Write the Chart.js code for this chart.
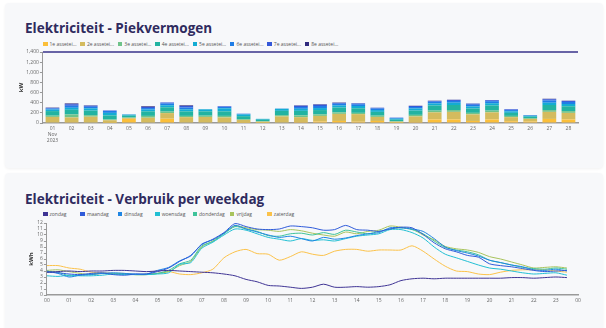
<!DOCTYPE html>
<html>
<head>
<meta charset="utf-8">
<script src="https://cdn.jsdelivr.net/npm/chart.js@4.4.1/dist/chart.umd.min.js"></script>
<style>
    body { margin: 0; background: #fff; font-family: 'Open Sans', sans-serif; }
    .kaart { position: absolute; left: 5px; width: 598px; background: #f7f8fa; border-radius: 4px; box-shadow: 0 1px 3px rgba(0,0,0,0.06); }
    .titel { position: absolute; left: 20px; font-weight: 700; font-size: 13.5px; color: #2f2b5e; white-space: nowrap; }
    .legenda { position: absolute; left: 38px; display: flex; font-size: 5px; color: #555; }
    .legenda div { width: 37.4px; display: flex; align-items: center; white-space: nowrap; }
    .legenda span { display: inline-block; width: 4.5px; height: 4.5px; margin-right: 2px; }
    .vak { position: absolute; }
</style>
</head>
<body>
<div class="kaart" style="top:3px;height:165px">
    <div class="titel" style="top:16px">Elektriciteit - Piekvermogen</div>
    <div class="legenda" id="legenda-piek" style="top:38px"></div>
    <div class="vak" style="left:13px;top:43px;width:568px;height:101px"><canvas id="chart-piek"></canvas></div>
</div>
<div class="kaart" style="top:173px;height:160px">
    <div class="titel" style="top:17px">Elektriciteit - Verbruik per weekdag</div>
    <div class="legenda" id="legenda-weekdag" style="top:38px"></div>
    <div class="vak" style="left:22px;top:44px;width:559px;height:90px"><canvas id="chart-weekdag"></canvas></div>
</div>
<script>
// Piekvermogen per dag (kW)
const dagen = ['01','02','03','04','05','06','07','08','09','10','11','12','13','14',
    '15','16','17','18','19','20','21','22','23','24','25','26','27','28'];
const assetNamen = ['1e assetei...','2e assetei...','3e assetei...','4e assetei...',
    '5e assetei...','6e assetei...','7e assetei...','8e assetei...'];
const assetKleuren = ['#fbbf3a','#d4bb5e','#6fc38a','#22b3a1','#13acd3','#1f7de6','#3558d8','#302a7e'];
const asset1 = [10,15,10,5,80,10,85,10,10,10,5,5,10,20,30,40,25,40,5,20,70,70,40,70,35,30,80,70];
const asset2 = [110,95,115,50,15,95,110,105,110,100,55,20,120,95,110,140,150,80,20,110,140,150,130,140,80,50,140,130];
const asset3 = [25,60,30,15,15,35,30,25,25,30,15,10,25,35,30,30,25,25,10,30,35,35,30,35,25,15,35,35];
const asset4 = [90,90,90,80,35,90,85,90,85,90,60,30,85,90,85,95,90,75,30,85,100,100,85,100,60,30,100,95];
const asset5 = [30,40,45,50,20,35,40,40,40,60,35,17,40,40,40,40,45,35,20,40,40,45,40,45,30,17,45,45];
const asset6 = [20,40,30,37,4,30,35,35,2,25,10,0,5,35,40,35,35,30,15,30,35,35,35,40,25,10,45,40];
const asset7 = [12,30,20,10,2,20,20,30,0,14,4,0,0,25,25,15,15,15,6,20,15,20,20,18,15,5,23,20];
const asset8 = [7,16,8,0,0,14,0,13,0,0,0,0,0,8,10,8,5,2,0,5,5,4,4,5,0,0,10,5];
const piekTicks = [0,200,400,600,800,1000,1200,1400];

// Verbruik per weekdag (kWh), per half uur
const tijden = [];
for (let u = 0; u <= 24; u++) {
    tijden.push(String(u % 24).padStart(2, '0') + ':00');
    if (u < 24) tijden.push(String(u).padStart(2, '0') + ':30');
}
const weekdagNamen = ['zondag','maandag','dinsdag','woensdag','donderdag','vrijdag','zaterdag'];
const weekdagKleuren = ['#3f3494','#2f5bd9','#1f86e3','#22bfd3','#3fc39a','#a8c35c','#fbc24a'];
const zondag = [3.8,3.9,4.0,3.9,4.0,4.0,4.1,4.1,4.0,3.9,4.0,4.1,4.0,3.9,3.8,3.7,3.5,3.2,2.6,2.2,1.6,1.5,1.3,1.1,1.3,1.8,1.3,1.3,1.4,1.3,1.4,1.7,2.4,2.7,2.8,2.7,2.8,2.8,2.8,2.8,2.8,2.8,2.9,2.9,2.8,2.9,3.0,2.9];
const maandag = [3.8,3.7,3.5,3.4,3.6,3.7,3.4,3.3,3.5,3.5,3.9,4.5,5.6,6.6,8.4,9.3,10.4,11.9,11.4,11.0,10.9,11.0,11.5,11.4,11.2,10.8,10.9,11.6,10.9,10.8,10.6,11.0,11.3,11.2,10.1,8.7,7.7,7.2,6.6,6.3,5.2,4.9,4.7,4.4,4.1,3.9,4.0,4.1];
const dinsdag = [4.0,3.6,3.0,3.3,3.4,3.6,3.7,3.6,3.5,3.5,4.1,4.6,5.7,6.5,8.5,9.2,10.3,11.6,11.0,10.5,10.0,9.6,9.8,9.4,9.0,9.6,9.3,9.5,9.9,10.2,10.4,11.2,11.2,11.0,10.6,9.4,8.0,7.4,7.0,6.5,5.8,5.4,5.0,4.7,4.2,4.1,4.3,4.0];
const woensdag = [3.2,3.1,3.3,3.2,3.2,3.3,3.5,3.4,3.4,3.4,3.5,3.7,5.1,5.4,7.8,8.8,10.0,11.0,10.8,10.2,9.6,9.3,9.0,9.4,9.1,9.2,9.0,9.4,9.8,10.0,10.2,10.9,10.9,10.4,9.5,8.0,6.8,6.2,5.6,5.0,4.5,4.3,4.0,3.7,3.5,3.6,3.7,3.3];
const donderdag = [3.9,3.8,3.2,3.3,3.5,3.6,3.5,3.5,3.4,3.4,3.6,4.1,5.2,5.8,8.2,8.9,10.2,11.4,11.0,10.6,9.9,9.8,10.2,10.3,10.0,10.4,10.1,10.8,10.5,10.2,10.6,11.0,11.2,10.9,10.2,9.0,7.9,7.5,7.2,6.7,5.8,5.4,5.0,4.6,4.4,4.3,4.5,4.3];
const vrijdag = [4.1,4.2,3.9,3.6,3.4,3.6,3.6,3.6,3.4,3.5,3.6,3.9,4.9,5.6,8.0,9.0,10.3,11.5,11.2,10.9,10.8,10.6,10.9,10.7,10.3,10.0,9.8,10.5,10.2,10.6,10.8,11.5,11.3,11.0,10.0,9.2,8.1,7.7,7.5,7.1,6.4,6.0,5.5,5.0,4.5,4.6,4.7,4.5];
const zaterdag = [4.9,4.9,4.5,4.3,3.8,3.7,3.6,3.5,3.4,3.4,3.6,3.9,3.5,3.4,3.7,4.3,6.2,7.2,7.6,6.9,6.8,5.8,6.4,7.2,6.8,6.6,7.3,7.6,7.6,7.3,7.5,7.5,7.5,8.2,7.3,6.0,4.8,4.0,3.9,3.5,3.4,3.8,4.1,4.2,4.2,4.2,4.0,3.8];
const verbruikTicks = [0,1,2,3,4,5,6,7,8,9,10,11,12];

Chart.defaults.font.family = "'Open Sans', sans-serif";
Chart.defaults.font.size = 5;
Chart.defaults.color = '#666';

// legenda als html, vaste breedte per item
function maakLegenda(id, chart) {
    const el = document.getElementById(id);
    chart.data.datasets.forEach(ds => {
        const item = document.createElement('div');
        const box = document.createElement('span');
        box.style.background = ds.backgroundColor;
        item.appendChild(box);
        item.appendChild(document.createTextNode(ds.label));
        el.appendChild(item);
    });
}

// donkere lijn op de bovenkant van de y-as
const bovenLijn = {
    id: 'bovenLijn',
    afterDraw(chart) {
        const { ctx, chartArea, scales } = chart;
        const yy = scales.y.getPixelForValue(scales.y.max);
        ctx.save();
        ctx.strokeStyle = '#38338a';
        ctx.lineWidth = 1.5;
        ctx.beginPath();
        ctx.moveTo(chartArea.left, yy);
        ctx.lineTo(chartArea.right, yy);
        ctx.stroke();
        ctx.restore();
    }
};

const assetData = [asset1, asset2, asset3, asset4, asset5, asset6, asset7, asset8];
const chartPiek = new Chart(document.getElementById('chart-piek'), {
    type: 'bar',
    data: {
        labels: dagen,
        datasets: assetData.map((d, i) => ({
            label: assetNamen[i],
            data: d,
            backgroundColor: assetKleuren[i],
            borderWidth: 0,
            barPercentage: 0.9,
            categoryPercentage: 0.8
        }))
    },
    options: {
        responsive: true,
        maintainAspectRatio: false,
        animation: false,
        layout: { padding: { top: 6, right: 8 } },
        plugins: { legend: { display: false }, tooltip: { enabled: false } },
        scales: {
            x: {
                stacked: true,
                grid: { display: false, drawTicks: false },
                border: { color: '#9a9a9a', width: 1.5 },
                ticks: {
                    padding: 3,
                    maxRotation: 0,
                    autoSkip: false,
                    callback: (v, i) => i === 0 ? [dagen[i], 'Nov', '2023'] : dagen[i]
                }
            },
            y: {
                stacked: true,
                min: 0,
                max: 1400,
                afterBuildTicks: s => { s.ticks = piekTicks.map(v => ({ value: v })); },
                grid: { drawOnChartArea: false, tickLength: 3, color: '#999' },
                border: { color: '#999' },
                ticks: { padding: 1, autoSkip: false, callback: v => v.toLocaleString('en-US') },
                title: { display: true, text: 'kW', color: '#333', font: { size: 6, weight: 'bold' }, padding: 0 }
            }
        }
    },
    plugins: [bovenLijn]
});
maakLegenda('legenda-piek', chartPiek);

const weekdagData = [zondag, maandag, dinsdag, woensdag, donderdag, vrijdag, zaterdag];
const chartWeekdag = new Chart(document.getElementById('chart-weekdag'), {
    type: 'line',
    data: {
        labels: tijden,
        datasets: weekdagData.map((d, i) => ({
            label: weekdagNamen[i],
            data: d,
            borderColor: weekdagKleuren[i],
            backgroundColor: weekdagKleuren[i],
            borderWidth: 1,
            pointRadius: 0,
            tension: 0.25
        }))
    },
    options: {
        responsive: true,
        maintainAspectRatio: false,
        animation: false,
        layout: { padding: { top: 6, right: 8 } },
        plugins: { legend: { display: false }, tooltip: { enabled: false } },
        scales: {
            x: {
                grid: { display: false, drawTicks: false },
                border: { color: '#9a9a9a', width: 1.5 },
                ticks: {
                    padding: 3,
                    maxRotation: 0,
                    autoSkip: false,
                    callback: (v, i) => tijden[i].endsWith(':00') ? tijden[i].slice(0, 2) : null
                }
            },
            y: {
                min: 0,
                max: 12,
                afterBuildTicks: s => { s.ticks = verbruikTicks.map(v => ({ value: v })); },
                grid: { drawOnChartArea: false, tickLength: 3, color: '#999' },
                border: { color: '#999' },
                ticks: { padding: 1, autoSkip: false },
                title: { display: true, text: 'kWh', color: '#333', font: { size: 6, weight: 'bold' }, padding: 1 }
            }
        }
    }
});
maakLegenda('legenda-weekdag', chartWeekdag);
</script>
</body>
</html>
